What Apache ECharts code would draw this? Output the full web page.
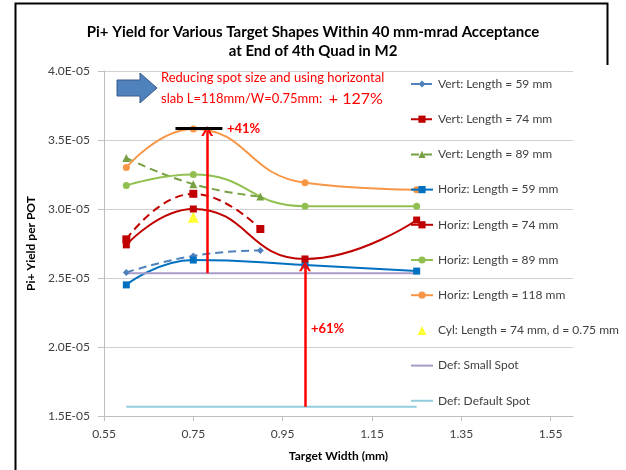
<!DOCTYPE html>
<html>
<head>
<meta charset="utf-8">
<script src="https://cdn.jsdelivr.net/npm/echarts@6/dist/echarts.min.js"></script>
<style>
  html, body { margin: 0; padding: 0; background: #fff; }
  #chart { width: 626px; height: 470px; }
</style>
</head>
<body>
<div id="chart"></div>
<script>
// target widths (mm)
var xVert = [0.6, 0.75, 0.9];
var xHoriz = [0.6, 0.75, 1.0, 1.25];
var xCyl = [0.75];
var xDef = [0.6, 1.25];

// Pi+ yield per POT
var vert59 = [2.54e-5, 2.66e-5, 2.70e-5];
var vert74 = [2.78e-5, 3.11e-5, 2.855e-5];
var vert89 = [3.37e-5, 3.18e-5, 3.09e-5];
var horiz59 = [2.45e-5, 2.63e-5, 2.594e-5, 2.55e-5];
var horiz74 = [2.74e-5, 3.00e-5, 2.638e-5, 2.92e-5];
var horiz89 = [3.17e-5, 3.25e-5, 3.02e-5, 3.02e-5];
var horiz118 = [3.30e-5, 3.58e-5, 3.19e-5, 3.14e-5];
var cyl74 = [2.94e-5];
var defSmall = [2.535e-5, 2.535e-5];
var defDefault = [1.567e-5, 1.567e-5];

// annotation arrows / bar (data coords)
var arrow41 = [[0.781, 2.535e-5], [0.781, 3.565e-5]];
var arrow61 = [[1.0, 1.567e-5], [1.0, 2.585e-5]];
var bar41 = [[0.71, 3.587e-5], [0.815, 3.587e-5]];

var font = 'Lato, "Open Sans", sans-serif';

function pairs(xs, ys) {
    return xs.map(function (x, i) { return [x, ys[i]]; });
}

function sciLabel(v) {
    var s = v.toExponential(1).split('e');
    var exp = parseInt(s[1], 10);
    var sign = exp < 0 ? '-' : '+';
    var a = Math.abs(exp);
    return s[0] + 'E' + sign + (a < 10 ? '0' + a : a);
}

function lineSeries(name, xs, ys, color, dashed, symbol, size) {
    return {
        name: name,
        type: 'line',
        data: pairs(xs, ys),
        smooth: true,
        symbol: symbol,
        symbolSize: size,
        itemStyle: { color: color },
        lineStyle: { color: color, width: 2, type: dashed ? [8, 5] : 'solid' }
    };
}

var chevron = 'path://M0,12 L6,0 L12,12 L9.6,12 L6,4.6 L2.4,12 Z';
// small centred triangle inside a 22x9 legend box
var legendTri = 'path://M0,0 L0.01,0 L0,0.01 Z M11,0 L15.5,9 L6.5,9 Z M22,9 L21.99,9 L22,8.99 Z';
var noMarker = { opacity: 0, color: 'rgba(0,0,0,0)' };

var myChart = echarts.init(document.getElementById('chart'));
myChart.setOption({
    animation: false,
    textStyle: { fontFamily: font },
    title: {
        text: 'Pi+ Yield for Various Target Shapes Within 40 mm-mrad Acceptance\nat End of 4th Quad in M2',
        left: 'center',
        top: 18,
        textStyle: { fontSize: 15, fontWeight: 'bold', color: '#000', lineHeight: 19, fontFamily: font }
    },
    legend: {
        orient: 'vertical',
        left: 410,
        top: 78,
        padding: 0,
        itemWidth: 22,
        itemHeight: 9,
        itemGap: 23.2,
        textStyle: { fontSize: 12, color: '#404040', fontFamily: font },
        data: ['Vert: Length = 59 mm', 'Vert: Length = 74 mm', 'Vert: Length = 89 mm',
               'Horiz: Length = 59 mm', 'Horiz: Length = 74 mm', 'Horiz: Length = 89 mm',
               'Horiz: Length = 118 mm',
               { name: 'Cyl: Length = 74 mm, d = 0.75 mm', icon: legendTri },
               { name: 'Def: Small Spot', itemStyle: noMarker },
               { name: 'Def: Default Spot', itemStyle: noMarker }]
    },
    grid: { left: 104, right: 53, top: 71, bottom: 54 },
    xAxis: {
        type: 'value',
        min: 0.55,
        max: 1.6,
        interval: 0.2,
        name: 'Target Width (mm)',
        nameLocation: 'middle',
        nameGap: 34,
        nameTextStyle: { fontSize: 12, fontWeight: 'bold', color: '#000', fontFamily: font },
        axisLine: { lineStyle: { color: '#bfbfbf' } },
        axisTick: { show: true, length: 5, lineStyle: { color: '#bfbfbf' } },
        axisLabel: {
            fontSize: 12, color: '#404040', margin: 12, showMaxLabel: false,
            formatter: function (v) { return v.toFixed(2); }
        },
        splitLine: { show: false }
    },
    yAxis: {
        type: 'value',
        min: 1.5e-5,
        max: 4.0e-5,
        interval: 0.5e-5,
        name: 'Pi+ Yield per POT',
        nameLocation: 'middle',
        nameGap: 66,
        nameTextStyle: { fontSize: 12, fontWeight: 'bold', color: '#000', fontFamily: font },
        axisLine: { show: true, lineStyle: { color: '#bfbfbf' } },
        axisTick: { show: true, length: 6, lineStyle: { color: '#bfbfbf' } },
        axisLabel: { fontSize: 12, color: '#404040', margin: 14, formatter: sciLabel },
        splitLine: { lineStyle: { color: '#d0d0d0' } }
    },
    series: [
        lineSeries('Vert: Length = 59 mm', xVert, vert59, '#4f81bd', true, 'diamond', 7),
        lineSeries('Vert: Length = 74 mm', xVert, vert74, '#c00000', true, 'rect', 8),
        lineSeries('Vert: Length = 89 mm', xVert, vert89, '#77a042', true, 'triangle', 8),
        lineSeries('Horiz: Length = 59 mm', xHoriz, horiz59, '#0070c0', false, 'rect', 7),
        lineSeries('Horiz: Length = 74 mm', xHoriz, horiz74, '#c00000', false, 'rect', 7),
        lineSeries('Horiz: Length = 89 mm', xHoriz, horiz89, '#92c050', false, 'circle', 7),
        lineSeries('Horiz: Length = 118 mm', xHoriz, horiz118, '#f79646', false, 'circle', 7),
        {
            name: 'Cyl: Length = 74 mm, d = 0.75 mm',
            type: 'scatter',
            data: pairs(xCyl, cyl74),
            symbol: 'triangle',
            symbolSize: 11,
            itemStyle: { color: '#ffff00' }
        },
        lineSeries('Def: Small Spot', xDef, defSmall, '#a99bc9', false, 'none', 0),
        lineSeries('Def: Default Spot', xDef, defDefault, '#93cddd', false, 'none', 0),
        {
            name: 'annot',
            type: 'line',
            data: [],
            markLine: {
                silent: true,
                label: { show: false },
                emphasis: { disabled: true },
                data: [
                    [{ coord: arrow41[0], symbol: 'none' },
                     { coord: arrow41[1], symbol: chevron, symbolSize: [12, 10] }],
                    [{ coord: arrow61[0], symbol: 'none' },
                     { coord: arrow61[1], symbol: chevron, symbolSize: [12, 10] }],
                    [{ coord: bar41[0], symbol: 'none', lineStyle: { color: '#000', width: 3, type: 'solid' } },
                     { coord: bar41[1], symbol: 'none' }]
                ],
                lineStyle: { color: '#ff0000', width: 2.5, type: 'solid' }
            }
        }
    ],
    graphic: [
        {
            // slide frame: left edge, top edge and a short right edge
            type: 'polyline',
            shape: { points: [[15.5, 470], [15.5, 3.5], [607.5, 3.5], [607.5, 65]] },
            style: { fill: 'none', stroke: '#000', lineWidth: 2 },
            silent: true
        },
        {
            type: 'polygon',
            shape: { points: [[117, 80], [140, 80], [140, 73], [157, 88], [140, 103], [140, 96], [117, 96]] },
            style: { fill: '#4f81bd', stroke: '#385d8a', lineWidth: 1 }
        },
        {
            type: 'text',
            left: 161,
            top: 71,
            style: {
                text: 'Reducing spot size and using horizontal',
                fill: '#ff0000', font: '13px ' + font
            }
        },
        {
            type: 'text',
            left: 161,
            top: 91,
            style: {
                text: '{a|slab L=118mm/W=0.75mm:  }{b|+ 127%}',
                rich: {
                    a: { fill: '#ff0000', fontSize: 13, fontFamily: font },
                    b: { fill: '#ff0000', fontSize: 16, fontFamily: font }
                }
            }
        },
        {
            type: 'text',
            left: 227,
            top: 122,
            style: { text: '+41%', fill: '#ff0000', font: 'bold 13px ' + font }
        },
        {
            type: 'text',
            left: 311,
            top: 322,
            style: { text: '+61%', fill: '#ff0000', font: 'bold 13px ' + font }
        }
    ]
});
</script>
</body>
</html>
